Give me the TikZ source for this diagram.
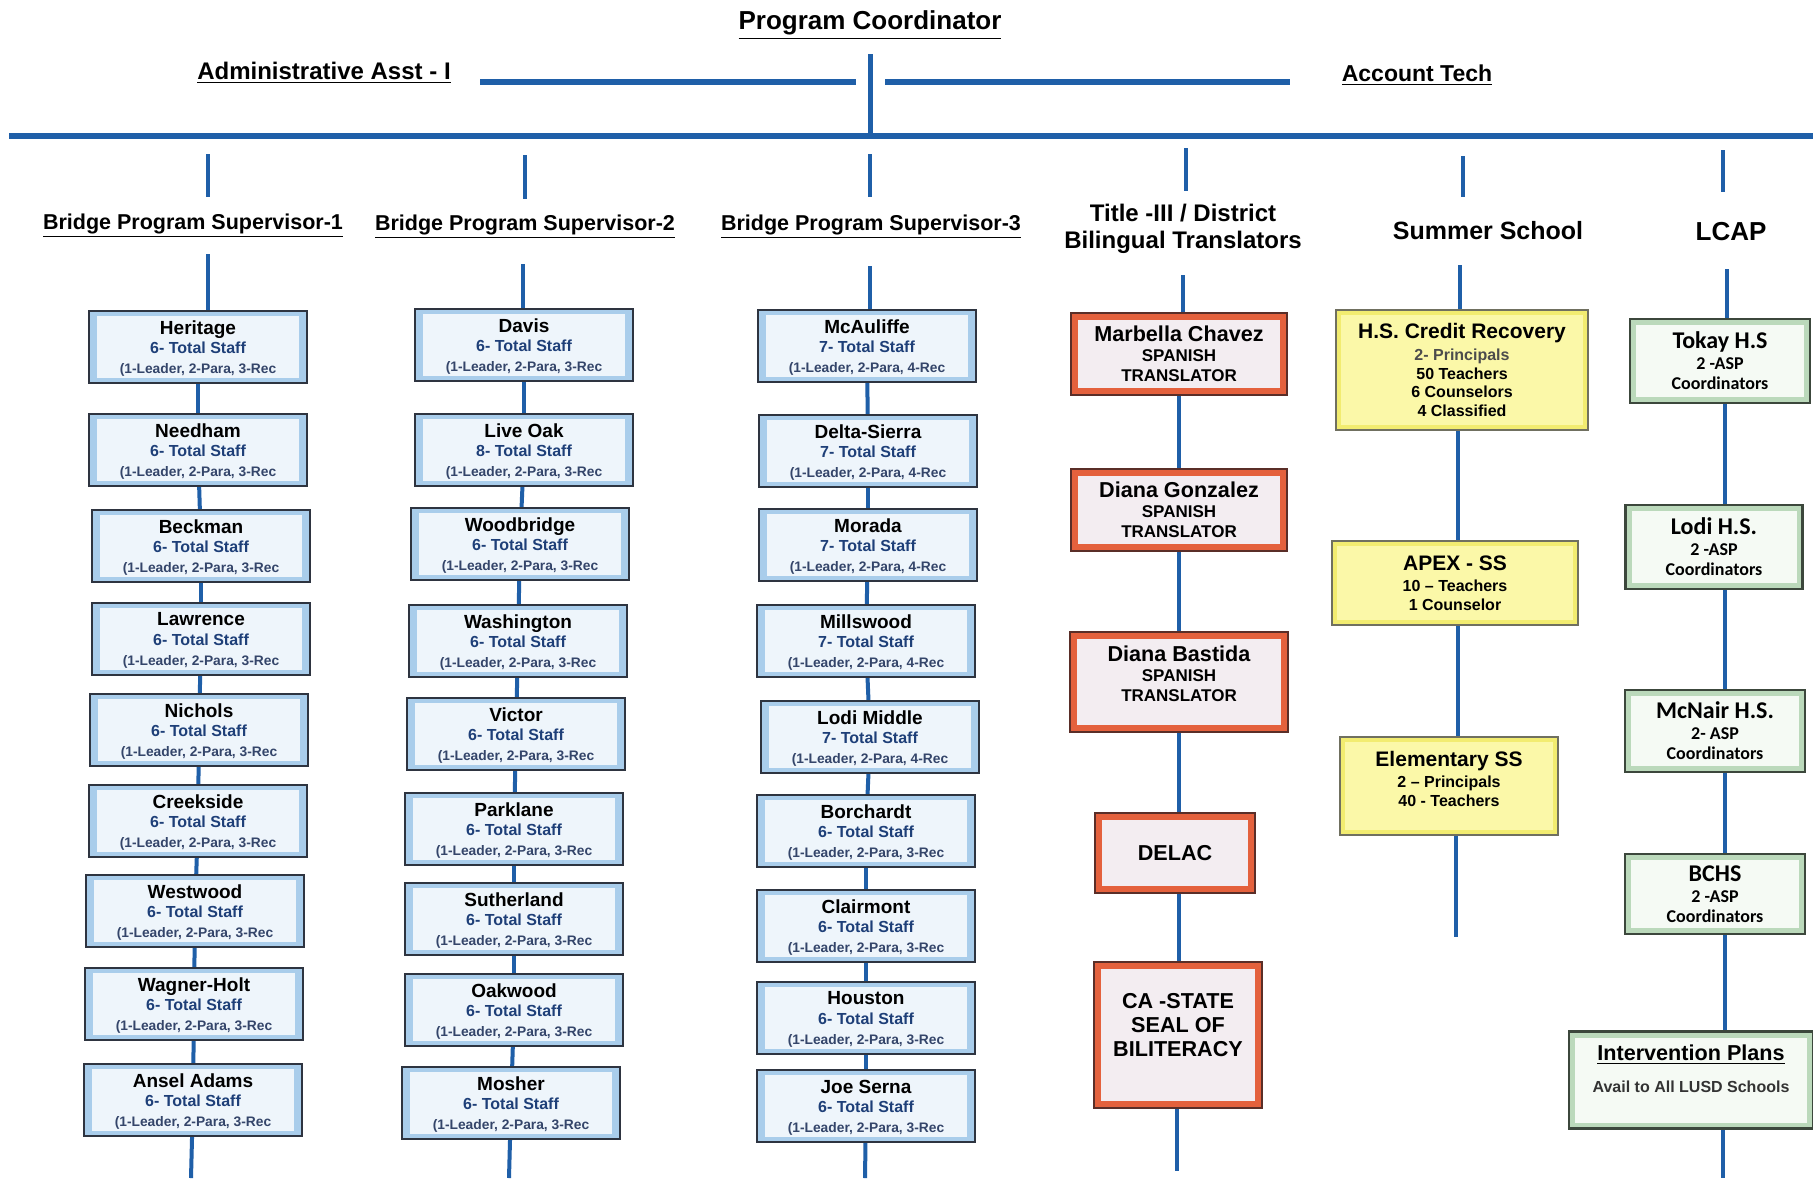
\documentclass[tikz,border=0pt]{standalone}
\usepackage{fontspec}
\setmainfont{Liberation Sans}
\newfontfamily\calib{Carlito}
\definecolor{lineblue}{HTML}{1F5FA8}
\definecolor{bdark}{HTML}{2E3440}
\definecolor{bframe}{HTML}{A9CDEB}
\definecolor{binner}{HTML}{EEF5FB}
\definecolor{rdark}{HTML}{5A2E28}
\definecolor{rframe}{HTML}{E4613D}
\definecolor{rinner}{HTML}{F3EDF1}
\definecolor{ydark}{HTML}{707060}
\definecolor{yframe}{HTML}{F2EC70}
\definecolor{yinner}{HTML}{FBF8A8}
\definecolor{gdark}{HTML}{3C473C}
\definecolor{gframe}{HTML}{BBD9BB}
\definecolor{ginner}{HTML}{F5FAF4}
\definecolor{staffblue}{HTML}{1E3F78}
\definecolor{recblue}{HTML}{34456A}
\newcommand\schn[1]{{\fontsize{9.5}{9.8}\selectfont\bfseries #1}}
\newcommand\schs[1]{{\fontsize{8}{9.8}\selectfont\bfseries\color{staffblue}#1}}
\newcommand\schr[1]{{\fontsize{6.9}{9.8}\selectfont\bfseries\color{recblue}#1}}
\newcommand\rn[1]{{\fontsize{10.8}{10}\selectfont\bfseries #1}}
\newcommand\rs[1]{{\fontsize{8.5}{10}\selectfont\bfseries #1}}
\newcommand\yn[1]{{\fontsize{10.5}{9.3}\selectfont\bfseries #1}}
\newcommand\ys[1]{{\fontsize{8}{9.3}\selectfont\bfseries #1}}
\newcommand\gn[1]{{\calib\fontsize{12}{10}\selectfont\bfseries #1}}
\newcommand\gs[1]{{\calib\fontsize{9}{10}\selectfont\bfseries #1}}
\newcommand\school[5]{\node[sbox] (#1) at (#2) {\schn{#3}\\\schs{#4- Total Staff}\\\schr{(1-Leader, 2-Para, #5-Rec}};}
\begin{document}
\begin{tikzpicture}[x=0.5pt,y=-0.5pt,
  conn/.style={draw=lineblue, line width=2pt},
  boxbase/.style={inner sep=0pt, align=center, line width=1.1pt},
  sbox/.style={boxbase, draw=bdark, fill=bframe, minimum width=109pt, minimum height=36pt,
    font=\fontsize{8}{9.8}\selectfont, text depth=-3.5pt,
    path picture={\fill[binner] ([shift={(4pt,2.5pt)}]path picture bounding box.south west) rectangle ([shift={(-4pt,-2.5pt)}]path picture bounding box.north east);}},
  rbox/.style={boxbase, draw=rdark, fill=rframe, font=\fontsize{8.5}{10}\selectfont,
    path picture={\fill[rinner] ([shift={(3.5pt,3.5pt)}]path picture bounding box.south west) rectangle ([shift={(-3.5pt,-3.5pt)}]path picture bounding box.north east);}},
  ybox/.style={boxbase, draw=ydark, fill=yframe, font=\fontsize{8}{9.3}\selectfont,
    path picture={\fill[yinner] ([shift={(2.5pt,2.5pt)}]path picture bounding box.south west) rectangle ([shift={(-2.5pt,-2.5pt)}]path picture bounding box.north east);}},
  gbox/.style={boxbase, draw=gdark, fill=gframe, font=\fontsize{9}{10}\selectfont,
    path picture={\fill[ginner] ([shift={(3pt,3pt)}]path picture bounding box.south west) rectangle ([shift={(-3pt,-3pt)}]path picture bounding box.north east);}},
  toptext/.style={inner sep=1pt, font=\bfseries},
  hdr/.style={inner sep=1pt, font=\fontsize{10.75}{13}\selectfont\bfseries}
]
\useasboundingbox (0,0) rectangle (1813,1178);
\fill[white] (0,0) rectangle (1813,1178);

% ---------- top ----------
\node[toptext, font=\fontsize{13}{15}\selectfont\bfseries] (pc) at (870,25) {\underline{Program Coordinator}};
\node[toptext, font=\fontsize{12}{14}\selectfont\bfseries] (admin) at (324,73) {\underline{Administrative Asst - I}};
\node[toptext, font=\fontsize{11.5}{14}\selectfont\bfseries] (acct) at (1417,75) {\underline{Account Tech}};
\coordinate (vt) at (870,54);
\coordinate (vj) at (870,136);
\coordinate (mL) at (9,136);
\coordinate (mR) at (1813,136);
\coordinate (aL) at (480,82);
\coordinate (aR) at (856,82);
\coordinate (tL) at (885,82);
\coordinate (tR) at (1290,82);
\draw[conn, line width=2.5pt] (vt) -- (vj);
\draw[conn, line width=2.6pt] (mL) -- (mR);
\draw[conn, line width=2.6pt] (aL) -- (aR);
\draw[conn, line width=2.6pt] (tL) -- (tR);

% stubs
\coordinate (s1a) at (208,154); \coordinate (s1b) at (208,197);
\coordinate (s2a) at (525,155); \coordinate (s2b) at (525,199);
\coordinate (s3a) at (870,154); \coordinate (s3b) at (870,197);
\coordinate (s4a) at (1186,148); \coordinate (s4b) at (1186,191);
\coordinate (s5a) at (1463,156); \coordinate (s5b) at (1463,197);
\coordinate (s6a) at (1723,150); \coordinate (s6b) at (1723,192);
\foreach \i in {1,...,6} {\draw[conn] (s\i a) -- (s\i b);}

% headers
\node[hdr] (h1) at (193,226) {\underline{Bridge Program Supervisor-1}};
\node[hdr] (h2) at (525,227) {\underline{Bridge Program Supervisor-2}};
\node[hdr] (h3) at (871,227) {\underline{Bridge Program Supervisor-3}};
\node[inner sep=1pt, align=center, font=\fontsize{12}{13.5}\selectfont\bfseries] (h4) at (1183,229) {Title -III / District\\Bilingual Translators};
\node[inner sep=1pt, font=\fontsize{12.5}{14}\selectfont\bfseries] (h5) at (1488,231) {Summer School};
\node[inner sep=1pt, font=\fontsize{13}{14}\selectfont\bfseries] (h6) at (1731,232) {LCAP};

% ---------- column 1 ----------
\school{heritage}{198,347}{Heritage}{6}{3}
\school{needham}{198,450}{Needham}{6}{3}
\school{beckman}{201,546}{Beckman}{6}{3}
\school{lawrence}{201,639}{Lawrence}{6}{3}
\school{nichols}{199,730}{Nichols}{6}{3}
\school{creekside}{198,821}{Creekside}{6}{3}
\school{westwood}{195,911}{Westwood}{6}{3}
\school{wagner}{194,1004}{Wagner-Holt}{6}{3}
\school{ansel}{193,1100}{Ansel Adams}{6}{3}

% ---------- column 2 ----------
\school{davis}{524,345}{Davis}{6}{3}
\school{liveoak}{524,450}{Live Oak}{8}{3}
\school{woodbridge}{520,544}{Woodbridge}{6}{3}
\school{washington}{518,641}{Washington}{6}{3}
\school{victor}{516,734}{Victor}{6}{3}
\school{parklane}{514,829}{Parklane}{6}{3}
\school{sutherland}{514,919}{Sutherland}{6}{3}
\school{oakwood}{514,1010}{Oakwood}{6}{3}
\school{mosher}{511,1103}{Mosher}{6}{3}

% ---------- column 3 ----------
\school{mcauliffe}{867,346}{McAuliffe}{7}{4}
\school{deltasierra}{868,451}{Delta-Sierra}{7}{4}
\school{morada}{868,545}{Morada}{7}{4}
\school{millswood}{866,641}{Millswood}{7}{4}
\school{lodimiddle}{870,737}{Lodi Middle}{7}{4}
\school{borchardt}{866,831}{Borchardt}{6}{3}
\school{clairmont}{866,926}{Clairmont}{6}{3}
\school{houston}{866,1018}{Houston}{6}{3}
\school{joeserna}{866,1106}{Joe Serna}{6}{3}

% ---------- column 4 ----------
\node[rbox, minimum width=108pt, minimum height=41pt] (marbella) at (1179,354) {\rn{Marbella Chavez}\\\rs{SPANISH}\\\rs{TRANSLATOR}};
\node[rbox, minimum width=108pt, minimum height=41pt] (gonzalez) at (1179,510) {\rn{Diana Gonzalez}\\\rs{SPANISH}\\\rs{TRANSLATOR}};
\node[rbox, minimum width=109pt, minimum height=50pt, text depth=8pt] (bastida) at (1179,682) {\rn{Diana Bastida}\\\rs{SPANISH}\\\rs{TRANSLATOR}};
\node[rbox, minimum width=80pt, minimum height=40pt] (delac) at (1175,853) {\rn{DELAC}};
\node[rbox, minimum width=84pt, minimum height=73pt, text depth=10pt, font=\fontsize{10.8}{12}\selectfont\bfseries] (seal) at (1178,1035) {CA -STATE\\SEAL OF\\BILITERACY};

% ---------- column 5 ----------
\node[ybox, minimum width=126pt, minimum height=60pt] (hscr) at (1462,370) {\yn{H.S. Credit Recovery}\\[1.5pt]{\ys{\color{black!70}2- Principals}}\\\ys{50 Teachers}\\\ys{6 Counselors}\\\ys{4 Classified}};
\node[ybox, minimum width=123pt, minimum height=42pt] (apex) at (1455,583) {\yn{APEX - SS}\\[1.5pt]\ys{10 -- Teachers}\\\ys{1 Counselor}};
\node[ybox, minimum width=109pt, minimum height=49pt, text depth=7.5pt] (elem) at (1449,786) {\yn{Elementary SS}\\[1.5pt]\ys{2 -- Principals}\\\ys{40 - Teachers}};

% ---------- column 6 ----------
\node[gbox, minimum width=90pt, minimum height=42pt] (tokay) at (1720,361) {\gn{Tokay H.S}\\[0.5pt]\gs{2 -ASP}\\\gs{Coordinators}};
\node[gbox, minimum width=88.5pt, minimum height=42pt] (lodihs) at (1714,547) {\gn{Lodi H.S.}\\[0.5pt]\gs{2 -ASP}\\\gs{Coordinators}};
\node[gbox, minimum width=90pt, minimum height=41pt] (mcnair) at (1715,731) {\gn{McNair H.S.}\\[0.5pt]\gs{2- ASP}\\\gs{Coordinators}};
\node[gbox, minimum width=90pt, minimum height=40pt] (bchs) at (1715,894) {\gn{BCHS}\\[0.5pt]\gs{2 -ASP}\\\gs{Coordinators}};
\node[gbox, minimum width=122pt, minimum height=48.5pt, text depth=11pt, font=\fontsize{8}{10}\selectfont\bfseries] (interv) at (1691,1080) {{\fontsize{10.8}{10}\selectfont\underline{Intervention Plans}}\\[6pt]{\color{black!80}Avail to All LUSD Schools}};

% ---------- column trunks ----------
\coordinate (c1t) at (208,254);  \coordinate (c1b) at (191,1178);
\coordinate (c2t) at (523,264);  \coordinate (c2b) at (509,1178);
\coordinate (c3t) at (870,266);  \coordinate (c3b) at (865,1178);
\coordinate (c4t) at (1183,275); \coordinate (c4b) at (1177,1171);
\coordinate (c5t) at (1460,265); \coordinate (c5b) at (1456,937);
\coordinate (c6t) at (1727,269); \coordinate (c6b) at (1723,1178);
\coordinate (x4) at (1179,0);
\coordinate (x5) at (1458,0);
\coordinate (x6) at (1725,0);

\draw[conn] (c1t) -- (c1t |- heritage.north);
\draw[conn] (c2t) -- (c2t |- davis.north);
\draw[conn] (c3t) -- (c3t |- mcauliffe.north);
\draw[conn] (c4t) -- (c4t |- marbella.north);
\draw[conn] (c5t) -- (c5t |- hscr.north);
\draw[conn] (c6t) -- (c6t |- tokay.north);

\foreach \a/\b in {heritage/needham, needham/beckman, beckman/lawrence, lawrence/nichols, nichols/creekside, creekside/westwood, westwood/wagner, wagner/ansel,
  davis/liveoak, liveoak/woodbridge, woodbridge/washington, washington/victor, victor/parklane, parklane/sutherland, sutherland/oakwood, oakwood/mosher,
  mcauliffe/deltasierra, deltasierra/morada, morada/millswood, millswood/lodimiddle, lodimiddle/borchardt, borchardt/clairmont, clairmont/houston, houston/joeserna}
  {\draw[conn] (\a) -- (\b);}

\foreach \a/\b in {marbella/gonzalez, gonzalez/bastida, bastida/delac, delac/seal}
  {\draw[conn] (\a.south -| x4) -- (\b.north -| x4);}
\foreach \a/\b in {hscr/apex, apex/elem}
  {\draw[conn] (\a.south -| x5) -- (\b.north -| x5);}
\foreach \a/\b in {tokay/lodihs, lodihs/mcnair, mcnair/bchs, bchs/interv}
  {\draw[conn] (\a.south -| x6) -- (\b.north -| x6);}

\draw[conn] (ansel) -- (c1b);
\draw[conn] (mosher) -- (c2b);
\draw[conn] (joeserna) -- (c3b);
\draw[conn] (seal.south -| c4b) -- (c4b);
\draw[conn] (elem.south -| c5b) -- (c5b);
\draw[conn] (interv.south -| c6b) -- (c6b);
\end{tikzpicture}
\end{document}
